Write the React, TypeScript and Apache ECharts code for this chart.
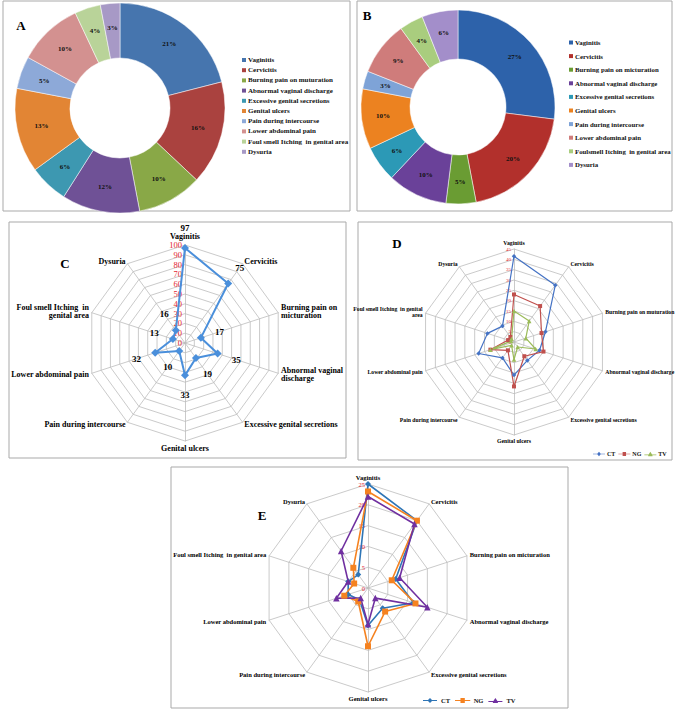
import React, { useEffect, useRef } from 'react';
import * as echarts from 'echarts';

const FONT = "'Liberation Serif', 'Times New Roman', serif";

// Category names (order as in the source chart, clockwise from top)
const catsA = ['Vaginitis', 'Cervicitis', 'Burning pain on muturation', 'Abnormal vaginal discharge', 'Excessive genital secretions', 'Genital ulcers', 'Pain during intercourse', 'Lower abdominal pain', 'Foul smell Itching  in genital area', 'Dysuria'];
const catsB = ['Vaginitis', 'Cervicitis', 'Burning pain on micturation', 'Abnormal vaginal discharge', 'Excessive genital secretions', 'Genital ulcers', 'Pain during intercourse', 'Lower abdominal pain', 'Foulsmell Itching  in genital area', 'Dysuria'];
const catsC = ['Vaginitis', 'Cervicitis', 'Burning pain on\nmicturation', 'Abnormal vaginal\ndischarge', 'Excessive genital secretions', 'Genital ulcers', 'Pain during intercourse', 'Lower abdominal pain', 'Foul smell Itching  in\ngenital area', 'Dysuria'];
const catsD = ['Vaginitis', 'Cervicitis', 'Burning pain on muturation', 'Abnormal vaginal discharge', 'Excessive genital secretions', 'Genital ulcers', 'Pain during intercourse', 'Lower abdominal pain', 'Foul smell Itching  in genital\narea', 'Dysuria'];
const catsE = ['Vaginitis', 'Cervicitis', 'Burning pain on micturation', 'Abnormal vaginal discharge', 'Excessive genital secretions', 'Genital ulcers', 'Pain during intercourse', 'Lower abdominal pain', 'Foul smell Itching  in genital area', 'Dysuria'];

// Panel A / B percentages
const pieA = [21, 16, 10, 12, 6, 13, 5, 10, 4, 3];
const pieB = [27, 20, 5, 10, 6, 10, 3, 9, 4, 6];

// Panel C counts
const cValues = [97, 75, 17, 35, 19, 33, 10, 32, 13, 16];

// Panel D
const dCT = [41.5, 34, 16, 13, 11, 16, 9.5, 18, 13.5, 9.5];
const dNG = [23, 21.5, 14, 15, 8.5, 21.5, 5, 12, 3, 3];
const dTV = [15, 12.5, 6, 11, 3, 8.5, 2, 12, 1.5, 2];

// Panel E
const eCT = [25, 20, 7, 11.5, 6, 9, 3.5, 5, 5, 4];
const eNG = [23.2, 20, 6, 12, 7, 14, 4, 6, 3.5, 6];
const eTV = [22, 19, 8, 15, 3, 8.7, 3, 8, 5, 11];

const seriesNames = ['CT', 'NG', 'TV'];

const colorsA = ['#4675AE', '#AA423F', '#89A847', '#6F5196', '#3D98B1', '#E28534', '#8DA9D8', '#D39190', '#B9D399', '#A799C6'];
const colorsB = ['#2D62AA', '#B2302C', '#6A9C33', '#6A4199', '#2C99B6', '#EC8220', '#7EA3D7', '#CF7C7B', '#A9CD7E', '#A38ECA'];
const colorsD = ['#4472C4', '#C0504D', '#9BBB59'];
const colorsE = ['#2E75B6', '#F58220', '#7030A0'];
const symbols = ['diamond', 'rect', 'triangle'];

// ECharts radar runs counter-clockwise; the source runs clockwise
const ORDER = [0, 9, 8, 7, 6, 5, 4, 3, 2, 1];
const reorder = (arr: any[]) => ORDER.map((i) => arr[i]);

const LABEL_OFFSET = 20;

const legendIcons = [
  'path://M0,2.6L5,2.6L7,0.5L9,2.6L14,2.6L14,3.4L9,3.4L7,5.5L5,3.4L0,3.4Z',
  'path://M0,2.6L5,2.6L5,0.7L9,0.7L9,2.6L14,2.6L14,3.4L9,3.4L9,5.3L5,5.3L5,3.4L0,3.4Z',
  'path://M0,3.6L5,3.6L7,0.5L9,3.6L14,3.6L14,4.4L9.5,4.4L9.5,5.5L4.5,5.5L4.5,4.4L0,4.4Z',
];

function makeRadar(center: number[], radius: number, max: number, split: number, names: string[], nameSize: number, tickSize: number, gap: number) {
  return {
    center,
    radius,
    startAngle: 90,
    splitNumber: split,
    shape: 'polygon',
    indicator: reorder(names).map((n: string, k: number) =>
      k === 0 ? { name: n, min: 0, max, axisLabel: { show: true } } : { name: n, min: 0, max }
    ),
    axisName: { color: '#000', fontSize: nameSize, fontWeight: 'bold', fontFamily: FONT },
    axisNameGap: gap,
    splitLine: { lineStyle: { color: '#BDBDBD', width: 0.8 } },
    splitArea: { show: false },
    axisLine: { lineStyle: { color: '#BDBDBD', width: 0.8 } },
    axisTick: { show: false },
    axisLabel: { show: false, color: '#E3262F', fontSize: tickSize, margin: 3, fontFamily: FONT },
  };
}

function pieSeries(center: number[], radius: number[], names: string[], values: number[], colors: string[]) {
  return {
    type: 'pie',
    center,
    radius,
    startAngle: 90,
    clockwise: true,
    silent: true,
    avoidLabelOverlap: false,
    data: names.map((n, i) => ({ name: n, value: values[i], itemStyle: { color: colors[i] } })),
    label: { show: true, position: 'inside', formatter: '{c}%', fontSize: 7, fontWeight: 'bold', color: '#111', fontFamily: FONT },
    labelLine: { show: false },
    itemStyle: { borderColor: '#ffffff', borderWidth: 0.5 },
  };
}

function pieLegend(names: string[], colors: string[], left: number, top: number, lineH: number, gap: number, fontSize: number) {
  return {
    orient: 'vertical',
    left,
    top,
    padding: 0,
    icon: 'rect',
    itemWidth: 4,
    itemHeight: 4,
    itemGap: gap,
    selectedMode: false,
    data: names.map((n, i) => ({ name: n, itemStyle: { color: colors[i], borderWidth: 0 } })),
    textStyle: { fontSize, fontWeight: 'bold', fontFamily: FONT, color: '#111', lineHeight: lineH, padding: [0, 0, 0, -3] },
  };
}

function radarLegend(colors: string[], left: number, top: number, w: number, fontSize: number, gap: number) {
  return {
    orient: 'horizontal',
    left,
    top,
    padding: 0,
    width: 120,
    itemWidth: w,
    itemHeight: 5,
    itemGap: gap,
    selectedMode: false,
    data: seriesNames.map((n, i) => ({ name: n, icon: legendIcons[i], itemStyle: { color: colors[i], borderWidth: 0 } })),
    textStyle: { fontSize, fontWeight: 'bold', fontFamily: FONT, color: '#111', padding: [0, 0, 0, -3] },
  };
}

function radarSeries(radarIndex: number, list: number[][], colors: string[], width: number, sizes: number[]) {
  return {
    type: 'radar',
    radarIndex,
    silent: true,
    data: list.map((vals, i) => ({
      name: seriesNames[i],
      value: reorder(vals),
      symbol: symbols[i],
      symbolSize: sizes[i],
      itemStyle: { color: colors[i] },
      lineStyle: { color: colors[i], width },
    })),
  };
}

export default function App() {
  const ref = useRef<HTMLDivElement>(null);

  useEffect(() => {
    if (!ref.current) return;
    const chart = echarts.init(ref.current, undefined, { renderer: 'svg' });
    const box = (x: number, y: number, w: number, h: number) => ({
      type: 'rect',
      z: -10,
      shape: { x, y, width: w, height: h },
      style: { fill: 'none', stroke: '#A9A9A9', lineWidth: 1 },
    });
    const letter = (t: string, x: number, y: number) => ({
      type: 'text',
      x,
      y,
      style: { text: t, fontSize: 13, fontWeight: 'bold', fontFamily: FONT, fill: '#000', align: 'center', verticalAlign: 'middle' },
    });

    const option: any = {
      animation: false,
      backgroundColor: '#ffffff',
      graphic: {
        elements: [
          box(3, 1, 347, 210),
          box(357, 1, 315, 210),
          box(9, 222, 337, 236),
          box(358, 222, 314, 238),
          box(171, 467, 397, 241),
          letter('A', 21, 25),
          letter('B', 367, 15),
          letter('C', 65, 263),
          letter('D', 397, 243),
          letter('E', 262, 515),
        ],
      },
      legend: [
        pieLegend(catsA, colorsA, 242, 56, 8, 2.2, 7),
        pieLegend(catsB, colorsB, 569, 38, 9, 4.6, 6.8),
        radarLegend(colorsD, 593, 451, 12, 6, 3),
        radarLegend(colorsE, 423, 697, 18, 6.5, 5),
      ],
      radar: [
        makeRadar([185, 343], 98, 100, 10, catsC, 8, 8.5, 3),
        makeRadar([514, 342], 93, 45, 9, catsD, 5.7, 5, 3),
        makeRadar([368, 588], 104, 25, 5, catsE, 6.5, 6.5, 3),
      ],
      series: [
        pieSeries([120, 108], [50, 105], catsA, pieA, colorsA),
        pieSeries([458, 107], [48, 97], catsB, pieB, colorsB),
        {
          type: 'radar',
          radarIndex: 0,
          silent: true,
          data: [
            {
              name: 'C',
              value: reorder(cValues),
              symbol: 'diamond',
              symbolSize: 8,
              itemStyle: { color: '#4A8FDB' },
              lineStyle: { color: '#4A8FDB', width: 2 },
            },
          ],
        },
        {
          type: 'radar',
          radarIndex: 0,
          silent: true,
          z: 5,
          data: [
            {
              name: 'C values',
              value: reorder(cValues.map((v) => v + LABEL_OFFSET)),
              symbol: 'circle',
              symbolSize: 1,
              itemStyle: { color: 'rgba(0,0,0,0)' },
              lineStyle: { width: 0, opacity: 0 },
              label: {
                show: true,
                position: 'inside',
                fontSize: 9,
                fontWeight: 'bold',
                color: '#000',
                fontFamily: FONT,
                formatter: (p: any) => {
                  const v = Array.isArray(p.value) ? p.value[p.dimensionIndex] : p.value;
                  return String(Math.round(v - LABEL_OFFSET));
                },
              },
            },
          ],
        },
        radarSeries(1, [dCT, dNG, dTV], colorsD, 1.2, [4.5, 4, 4.5]),
        radarSeries(2, [eCT, eNG, eTV], colorsE, 1.6, [6, 6, 6.5]),
      ],
    };
    chart.setOption(option);
    return () => chart.dispose();
  }, []);

  return <div ref={ref} style={{ position: 'absolute', left: 0, top: 0, width: 675, height: 711 }} />;
}
